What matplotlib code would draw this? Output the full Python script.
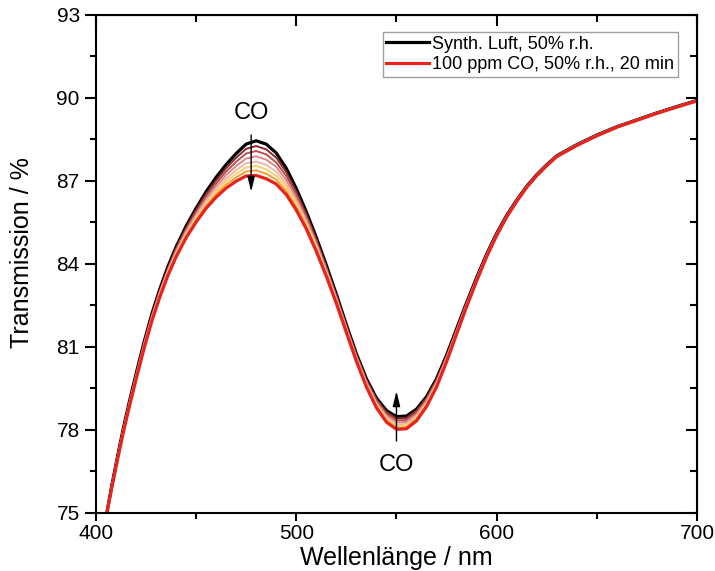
import matplotlib
matplotlib.use("Agg")
import matplotlib.pyplot as plt

plt.rcParams["font.family"] = ["Liberation Sans", "DejaVu Sans"]

# wavelength grid (nm)
WAVELENGTH = [405.5, 408, 411, 414, 417, 420, 424, 428, 432, 436, 440, 445, 450, 455,
              460, 465, 470, 475, 480, 485, 490, 495, 500, 505, 510, 515, 520, 525,
              530, 535, 540, 545, 550, 555, 560, 565, 570, 575, 580, 585, 590, 595,
              600, 605, 610, 615, 620, 625, 630, 640, 650, 660, 670, 680, 690, 700]

# synthetic air, 50% r.h.
AIR = [75.0, 76.0, 77.1, 78.15, 79.1, 80.0, 81.15, 82.2, 83.1, 83.9, 84.6, 85.35, 86.0,
       86.6, 87.12, 87.58, 87.98, 88.32, 88.44, 88.32, 88.0, 87.45, 86.72, 85.88, 84.95,
       83.95, 82.9, 81.8, 80.75, 79.85, 79.15, 78.7, 78.48, 78.5, 78.75, 79.2, 79.85,
       80.7, 81.65, 82.6, 83.5, 84.35, 85.1, 85.75, 86.3, 86.8, 87.22, 87.58, 87.9, 88.3,
       88.65, 88.95, 89.2, 89.45, 89.68, 89.9]

# intermediate spectra during CO exposure
CO_STEPS = [
    [75.0, 75.99, 77.08, 78.13, 79.07, 79.97, 81.12, 82.16, 83.06, 83.85, 84.55, 85.29,
     85.93, 86.51, 87.01, 87.45, 87.83, 88.15, 88.25, 88.13, 87.83, 87.31, 86.6, 85.79,
     84.88, 83.89, 82.85, 81.76, 80.71, 79.81, 79.1, 78.64, 78.41, 78.43, 78.69, 79.15,
     79.81, 80.66, 81.62, 82.58, 83.48, 84.34, 85.09, 85.74, 86.3, 86.8, 87.22, 87.58,
     87.9, 88.3, 88.65, 88.95, 89.2, 89.45, 89.68, 89.9],
    [75.0, 75.98, 77.06, 78.11, 79.05, 79.94, 81.08, 82.12, 83.01, 83.8, 84.49, 85.22,
     85.85, 86.42, 86.9, 87.33, 87.68, 87.98, 88.07, 87.95, 87.66, 87.17, 86.49, 85.69,
     84.8, 83.83, 82.8, 81.72, 80.67, 79.76, 79.05, 78.57, 78.34, 78.36, 78.62, 79.09,
     79.76, 80.63, 81.59, 82.56, 83.46, 84.32, 85.08, 85.73, 86.29, 86.79, 87.21, 87.57,
     87.89, 88.29, 88.64, 88.94, 89.19, 89.44, 89.67, 89.89],
    [75.0, 75.96, 77.05, 78.08, 79.02, 79.91, 81.05, 82.08, 82.97, 83.76, 84.44, 85.16,
     85.78, 86.33, 86.8, 87.2, 87.53, 87.8, 87.88, 87.76, 87.5, 87.02, 86.37, 85.6,
     84.73, 83.77, 82.75, 81.67, 80.63, 79.72, 78.99, 78.51, 78.27, 78.29, 78.56, 79.04,
     79.72, 80.59, 81.56, 82.53, 83.45, 84.31, 85.06, 85.72, 86.28, 86.78, 87.2, 87.56,
     87.89, 88.29, 88.64, 88.94, 89.19, 89.44, 89.67, 89.89],
    [75.0, 75.95, 77.03, 78.06, 78.99, 79.88, 81.01, 82.04, 82.93, 83.71, 84.38, 85.1,
     85.7, 86.24, 86.69, 87.07, 87.38, 87.63, 87.69, 87.57, 87.33, 86.88, 86.25, 85.51,
     84.65, 83.71, 82.7, 81.63, 80.59, 79.67, 78.94, 78.45, 78.2, 78.22, 78.5, 78.98,
     79.67, 80.56, 81.54, 82.51, 83.43, 84.29, 85.05, 85.71, 86.27, 86.78, 87.2, 87.56,
     87.88, 88.28, 88.63, 88.94, 89.19, 89.44, 89.67, 89.89],
    [75.0, 75.94, 77.01, 78.04, 78.97, 79.85, 80.98, 82.01, 82.89, 83.67, 84.34, 85.04,
     85.64, 86.16, 86.59, 86.96, 87.25, 87.48, 87.53, 87.41, 87.18, 86.76, 86.15, 85.43,
     84.59, 83.66, 82.66, 81.6, 80.55, 79.63, 78.89, 78.39, 78.14, 78.16, 78.44, 78.94,
     79.63, 80.53, 81.51, 82.49, 83.41, 84.28, 85.04, 85.71, 86.26, 86.77, 87.19, 87.55,
     87.88, 88.28, 88.63, 88.94, 89.19, 89.44, 89.67, 89.89],
    [75.0, 75.93, 77.0, 78.02, 78.95, 79.83, 80.95, 81.98, 82.85, 83.63, 84.29, 84.99,
     85.57, 86.08, 86.5, 86.85, 87.12, 87.33, 87.37, 87.25, 87.04, 86.63, 86.05, 85.35,
     84.52, 83.61, 82.62, 81.56, 80.52, 79.59, 78.85, 78.34, 78.08, 78.1, 78.39, 78.89,
     79.59, 80.49, 81.49, 82.47, 83.4, 84.26, 85.03, 85.7, 86.26, 86.77, 87.19, 87.55,
     87.87, 88.27, 88.62, 88.93, 89.18, 89.43, 89.66, 89.88],
]
STEP_COLORS = ["#8c2a2a", "#b85050", "#d88a8a", "#f0b8a8", "#f8d070", "#f5a030"]

# 100 ppm CO, 50% r.h., 20 min
CO_20MIN = [75.0, 75.92, 76.98, 78.0, 78.92, 79.8, 80.92, 81.94, 82.81, 83.58, 84.24,
            84.93, 85.5, 86.0, 86.4, 86.73, 86.98, 87.17, 87.19, 87.07, 86.88, 86.5,
            85.94, 85.26, 84.45, 83.55, 82.57, 81.52, 80.48, 79.55, 78.8, 78.28, 78.02,
            78.04, 78.33, 78.84, 79.55, 80.46, 81.46, 82.45, 83.38, 84.25, 85.02, 85.69,
            86.25, 86.76, 87.18, 87.54, 87.87, 88.27, 88.62, 88.93, 89.18, 89.43, 89.66,
            89.88]

X_MAJOR = [400, 500, 600, 700]
X_MINOR = [450, 550, 650]
Y_MAJOR = [75, 78, 81, 84, 87, 90, 93]
Y_MINOR = [76.5, 79.5, 82.5, 85.5, 88.5, 91.5]

fig = plt.figure(figsize=(7.15, 5.71), dpi=100)
ax = fig.add_axes([0.134, 0.1016, 0.841, 0.873])

l_air, = ax.plot(WAVELENGTH, AIR, color="black", lw=2.3, label="Synth. Luft, 50% r.h.")
for vals, col in zip(CO_STEPS, STEP_COLORS):
    ax.plot(WAVELENGTH, vals, color=col, lw=1.4)
l_co, = ax.plot(WAVELENGTH, CO_20MIN, color="#e8231e", lw=2.3,
                label="100 ppm CO, 50% r.h., 20 min")

# arrows with CO labels
arrow = dict(arrowstyle="-|>,head_width=0.22,head_length=0.9", color="black", lw=1)
ax.annotate("", xy=(477.5, 86.5), xytext=(477.5, 88.75), arrowprops=arrow)
ax.text(477.5, 89.45, "CO", ha="center", va="center", fontsize=17)
ax.annotate("", xy=(550, 79.5), xytext=(550, 77.5), arrowprops=arrow)
ax.text(550, 76.75, "CO", ha="center", va="center", fontsize=17)

ax.set_xlim(400, 700)
ax.set_ylim(75, 93)
ax.set_xticks(X_MAJOR)
ax.set_xticks(X_MINOR, minor=True)
ax.set_yticks(Y_MAJOR)
ax.set_yticks(Y_MINOR, minor=True)
ax.tick_params(axis="x", which="major", direction="out", length=6, width=1.5,
               labelsize=15, pad=2)
ax.tick_params(axis="y", which="major", direction="out", length=8, width=1.5,
               labelsize=15)
ax.tick_params(which="minor", direction="out", length=4, width=1.5)
for s in ax.spines.values():
    s.set_linewidth(1.5)

# mirrored ticks pointing inward on top and right
top = ax.secondary_xaxis("top")
top.set_xticks(X_MAJOR)
top.set_xticks(X_MINOR, minor=True)
top.tick_params(which="major", direction="in", length=8, width=1.5, labeltop=False)
top.tick_params(which="minor", direction="in", length=5, width=1.5)
right = ax.secondary_yaxis("right")
right.set_yticks(Y_MAJOR)
right.set_yticks(Y_MINOR, minor=True)
right.tick_params(which="major", direction="in", length=8, width=1.5, labelright=False)
right.tick_params(which="minor", direction="in", length=5, width=1.5)

ax.set_xlabel("Wellenlänge / nm", fontsize=18, labelpad=2)
ax.set_ylabel("Transmission / %", fontsize=18)
ax.yaxis.set_label_coords(-0.102, 0.522)

leg = ax.legend(handles=[l_air, l_co], loc="upper right", bbox_to_anchor=(0.968, 0.965),
                fontsize=13, frameon=True, fancybox=False, borderaxespad=0,
                borderpad=0.2, labelspacing=0.2, handlelength=2.35, handletextpad=0.2)
leg.get_frame().set_edgecolor("#888888")
leg.get_frame().set_linewidth(1)

fig.savefig("out.png", dpi=100)
